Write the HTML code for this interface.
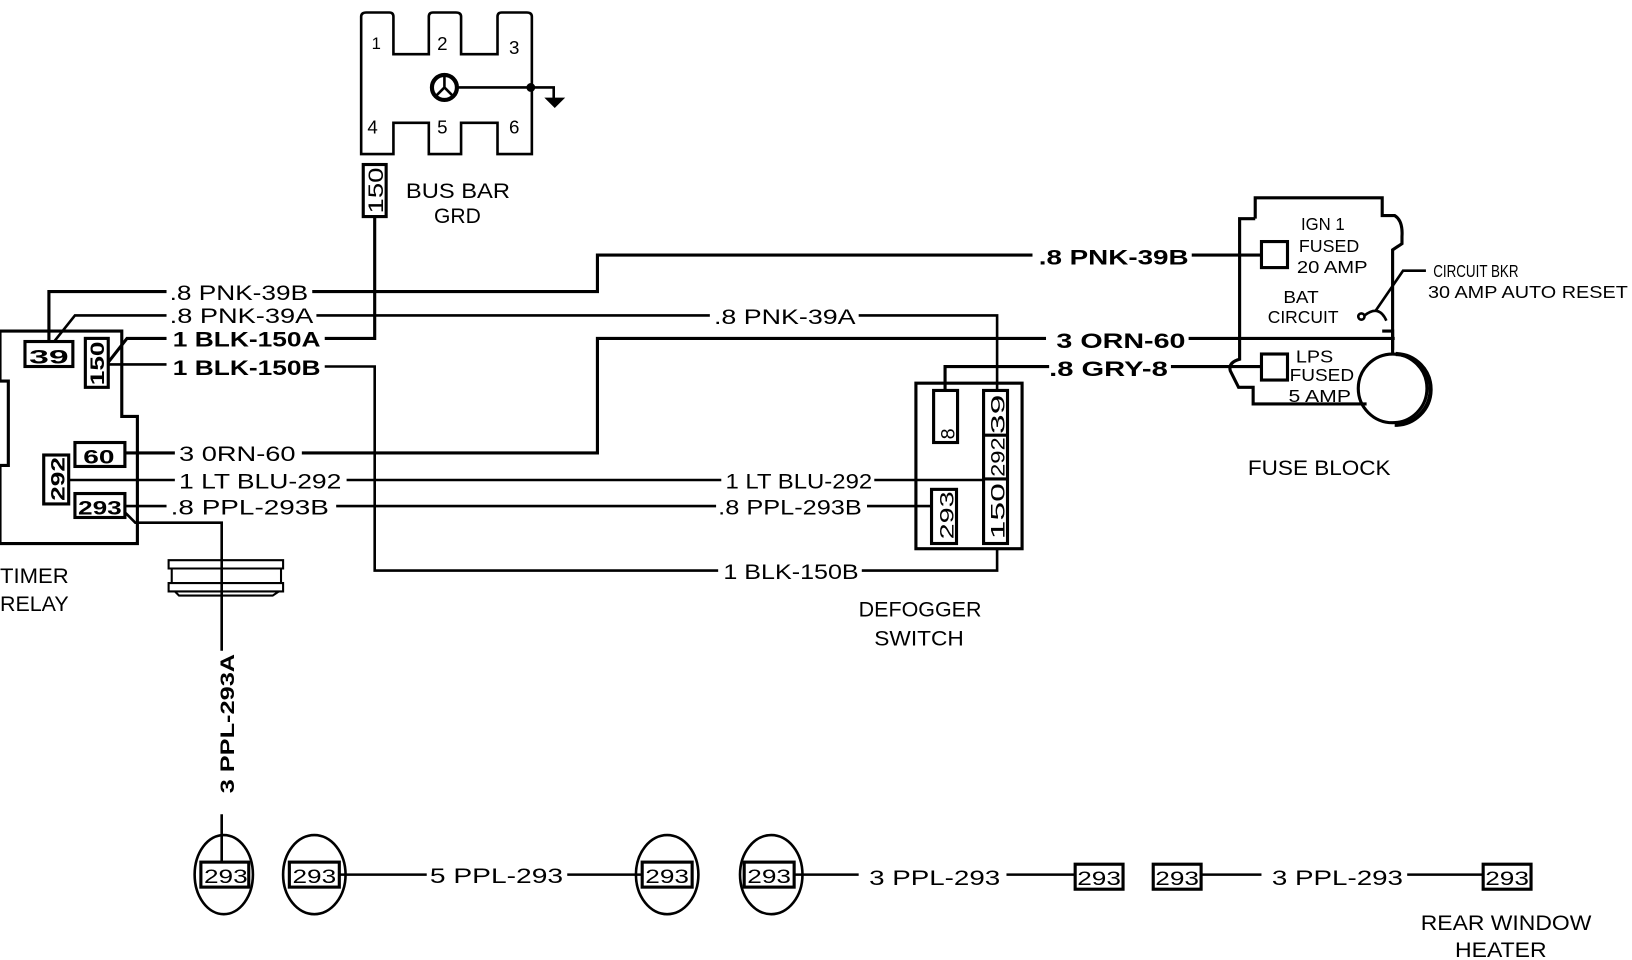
<!DOCTYPE html>
<html><head><meta charset="utf-8"><style>
html,body{margin:0;padding:0;background:#fff;}
svg{display:block;}
text{font-family:"Liberation Sans Narrow","Liberation Sans",sans-serif;fill:#000;}
.b{font-weight:bold;}
</style></head><body>
<svg width="1632" height="960" viewBox="0 0 1568 922" preserveAspectRatio="none" xmlns="http://www.w3.org/2000/svg">
<g fill="none" stroke="#000" stroke-width="2.5">
<!-- bus bar -->
<path d="M347 148 V16 Q347 12 352 12 H374 Q378 12 378 16 V52 H412 V16 Q412 12 416 12 H438 Q443 12 443 16 V52 H478 V16 Q478 12 482 12 H506 Q511 12 511 16 V148 H478 V118 H443 V148 H412 V118 H378 V148 Z"/>
<circle cx="427" cy="84" r="12" stroke-width="4"/>
<path d="M427 84 V74 M427 84 L419 92 M427 84 L435 92"/>
<path d="M439 84 H532 V95"/>
<circle cx="510" cy="84" r="3" fill="#000"/>
<path d="M526 95 H540 L533 102 Z" fill="#000"/>
<rect x="349" y="158" width="22" height="50" stroke-width="3"/>
<!-- timer relay -->
<path d="M0 318 H117 V400 H132 V522 H0 V447 H8 V366 H0 Z" stroke-width="3"/>
<rect x="24" y="328" width="46" height="24" stroke-width="3"/>
<rect x="82" y="325" width="22" height="47" stroke-width="3"/>
<rect x="72" y="425" width="48" height="23" stroke-width="3"/>
<rect x="42" y="437" width="24" height="47" stroke-width="3"/>
<rect x="72" y="474" width="48" height="23" stroke-width="3"/>
<!-- wires -->
<path d="M47 328 V280 H160 M300 280 H574 V245 H992 M1145 245 H1212" stroke-width="3"/>
<path d="M52 328 L72 303 H160 M304 303 H682 M825 303 H958 V375"/>
<path d="M104 348 L122 325 H160 M312 325 H360 V208" stroke-width="3"/>
<path d="M104 350 H160 M312 352 H360 V548 H690 M828 548 H958 V527"/>
<path d="M120 435 H168 M290 435 H574 V325 H1005 M1142 325 H1340" stroke-width="3"/>
<path d="M66 461 H168 M333 461 H693 M840 461 H945"/>
<path d="M120 486 H160 M323 486 H688 M833 486 H895"/>
<path d="M908 375 V352 H1008 M1125 352 H1212" stroke-width="3"/>
<path d="M120 492 L130 502 H213 V625 M213 782 V828"/>
<!-- connector symbol -->
<path d="M162 538 H272 V546 H162 Z M165 546 H270 V560 H165 Z M162 560 H272 V568 H162 Z M168 568 L172 572 H262 L268 568" stroke-width="2"/>
<!-- defogger -->
<rect x="880" y="368" width="102" height="159" stroke-width="3"/>
<rect x="897" y="375" width="23" height="50" stroke-width="3"/>
<rect x="945" y="375" width="23" height="147" stroke-width="3"/>
<path d="M945 418 H968 M945 460 H968" stroke-width="3"/>
<rect x="895" y="470" width="24" height="52" stroke-width="3"/>
<!-- fuse block -->
<path d="M1206 210 V190 H1328 V207 H1340 Q1348 212 1347 227 V234 L1338 240 V336" stroke-width="3"/>
<path d="M1206 210 H1191 V345 Q1180 348 1182 356 L1190 372 H1204 V388 H1313" stroke-width="3"/>
<rect x="1212" y="232" width="25" height="25" stroke-width="3"/>
<rect x="1212" y="340" width="25" height="25" stroke-width="3"/>
<circle cx="1338" cy="373" r="33" stroke-width="3"/>
<path d="M1341 340 A34 34 0 0 1 1340 408" stroke-width="4"/>
<path d="M1338 340 V320 M1328 318 H1338 V330" stroke-width="3"/>
<path d="M1370 260 H1348 L1322 298"/>
<circle cx="1308" cy="304" r="3"/>
<path d="M1311 303 Q1325 292 1332 308" />
<!-- bottom circles -->
<ellipse cx="215" cy="840" rx="28" ry="38"/>
<ellipse cx="302" cy="840" rx="30" ry="38"/>
<ellipse cx="641" cy="840" rx="30" ry="38"/>
<ellipse cx="741" cy="840" rx="30" ry="38"/>
<g stroke-width="3">
<rect x="193" y="828" width="46" height="24"/>
<rect x="278" y="828" width="48" height="24"/>
<rect x="617" y="828" width="48" height="24"/>
<rect x="715" y="828" width="48" height="24"/>
<rect x="1033" y="830" width="46" height="24"/>
<rect x="1108" y="830" width="46" height="24"/>
<rect x="1425" y="830" width="46" height="24"/>
</g>
<path d="M326 840 H410 M545 840 H617 M763 840 H825 M967 840 H1033 M1154 840 H1212 M1352 840 H1425" stroke-width="2.5"/>
</g>
<!-- text -->
<g font-size="20">
<text x="390" y="190" textLength="100" lengthAdjust="spacingAndGlyphs">BUS BAR</text>
<text x="417" y="214" textLength="45" lengthAdjust="spacingAndGlyphs">GRD</text>
<text x="357" y="47" font-size="16">1</text>
<text x="420" y="48" font-size="18">2</text>
<text x="489" y="52" font-size="18">3</text>
<text x="353" y="128" font-size="18">4</text>
<text x="420" y="128" font-size="18">5</text>
<text x="489" y="128" font-size="18">6</text>
<text transform="translate(368,205) rotate(-90)" font-size="20" textLength="44" lengthAdjust="spacingAndGlyphs">150</text>

<text x="163" y="288" textLength="133" lengthAdjust="spacingAndGlyphs">.8 PNK-39B</text>
<text x="163" y="310" textLength="138" lengthAdjust="spacingAndGlyphs">.8 PNK-39A</text>
<text x="166" y="333" class="b" textLength="142" lengthAdjust="spacingAndGlyphs">1 BLK-150A</text>
<text x="166" y="360" class="b" textLength="142" lengthAdjust="spacingAndGlyphs">1 BLK-150B</text>
<text x="172" y="443" textLength="112" lengthAdjust="spacingAndGlyphs">3 0RN-60</text>
<text x="172" y="469" textLength="156" lengthAdjust="spacingAndGlyphs">1 LT BLU-292</text>
<text x="164" y="494" textLength="152" lengthAdjust="spacingAndGlyphs">.8 PPL-293B</text>

<text x="28" y="349" class="b" font-size="19" textLength="38" lengthAdjust="spacingAndGlyphs">39</text>
<text transform="translate(100,370) rotate(-90)" class="b" font-size="19" textLength="42" lengthAdjust="spacingAndGlyphs">150</text>
<text x="80" y="445" class="b" font-size="19" textLength="30" lengthAdjust="spacingAndGlyphs">60</text>
<text transform="translate(62,481) rotate(-90)" class="b" font-size="19" textLength="42" lengthAdjust="spacingAndGlyphs">292</text>
<text x="75" y="494" class="b" font-size="19" textLength="42" lengthAdjust="spacingAndGlyphs">293</text>
<text x="0" y="560" textLength="66" lengthAdjust="spacingAndGlyphs">TIMER</text>
<text x="0" y="587" textLength="66" lengthAdjust="spacingAndGlyphs">RELAY</text>

<text x="686" y="311" textLength="136" lengthAdjust="spacingAndGlyphs">.8 PNK-39A</text>
<text x="697" y="469" textLength="141" lengthAdjust="spacingAndGlyphs">1 LT BLU-292</text>
<text x="690" y="494" textLength="138" lengthAdjust="spacingAndGlyphs">.8 PPL-293B</text>
<text x="695" y="556" textLength="130" lengthAdjust="spacingAndGlyphs">1 BLK-150B</text>
<text x="825" y="592" textLength="118" lengthAdjust="spacingAndGlyphs">DEFOGGER</text>
<text x="840" y="620" textLength="86" lengthAdjust="spacingAndGlyphs">SWITCH</text>
<text transform="translate(917,422) rotate(-90)" font-size="19">8</text>
<text transform="translate(965,417) rotate(-90)" font-size="19" textLength="38" lengthAdjust="spacingAndGlyphs">39</text>
<text transform="translate(965,458) rotate(-90)" font-size="19" textLength="38" lengthAdjust="spacingAndGlyphs">292</text>
<text transform="translate(965,518) rotate(-90)" font-size="19" textLength="54" lengthAdjust="spacingAndGlyphs">150</text>
<text transform="translate(916,518) rotate(-90)" font-size="19" textLength="46" lengthAdjust="spacingAndGlyphs">293</text>

<text x="998" y="254" class="b" textLength="144" lengthAdjust="spacingAndGlyphs">.8 PNK-39B</text>
<text x="1015" y="334" class="b" textLength="124" lengthAdjust="spacingAndGlyphs">3 ORN-60</text>
<text x="1008" y="361" class="b" textLength="114" lengthAdjust="spacingAndGlyphs">.8 GRY-8</text>
<g font-size="17">
<text x="1250" y="221" textLength="42" lengthAdjust="spacingAndGlyphs">IGN 1</text>
<text x="1248" y="242" textLength="58" lengthAdjust="spacingAndGlyphs">FUSED</text>
<text x="1246" y="262" textLength="68" lengthAdjust="spacingAndGlyphs">20 AMP</text>
<text x="1233" y="291" textLength="34" lengthAdjust="spacingAndGlyphs">BAT</text>
<text x="1218" y="310" textLength="68" lengthAdjust="spacingAndGlyphs">CIRCUIT</text>
<text x="1245" y="348" textLength="36" lengthAdjust="spacingAndGlyphs">LPS</text>
<text x="1239" y="366" textLength="62" lengthAdjust="spacingAndGlyphs">FUSED</text>
<text x="1238" y="386" textLength="60" lengthAdjust="spacingAndGlyphs">5 AMP</text>
<text x="1377" y="266" textLength="82" lengthAdjust="spacingAndGlyphs">CIRCUIT BKR</text>
<text x="1372" y="286" textLength="192" lengthAdjust="spacingAndGlyphs">30 AMP AUTO RESET</text>
</g>
<text x="1199" y="456" textLength="137" lengthAdjust="spacingAndGlyphs">FUSE BLOCK</text>

<text transform="translate(225,762) rotate(-90)" class="b" font-size="19" textLength="134" lengthAdjust="spacingAndGlyphs">3  PPL-293A</text>
<g font-size="19">
<text x="196" y="848" textLength="42" lengthAdjust="spacingAndGlyphs">293</text>
<text x="281" y="848" textLength="42" lengthAdjust="spacingAndGlyphs">293</text>
<text x="620" y="848" textLength="42" lengthAdjust="spacingAndGlyphs">293</text>
<text x="718" y="848" textLength="42" lengthAdjust="spacingAndGlyphs">293</text>
<text x="1035" y="850" textLength="42" lengthAdjust="spacingAndGlyphs">293</text>
<text x="1110" y="850" textLength="42" lengthAdjust="spacingAndGlyphs">293</text>
<text x="1427" y="850" textLength="42" lengthAdjust="spacingAndGlyphs">293</text>
</g>
<text x="413" y="848" textLength="128" lengthAdjust="spacingAndGlyphs">5 PPL-293</text>
<text x="835" y="850" textLength="126" lengthAdjust="spacingAndGlyphs">3 PPL-293</text>
<text x="1222" y="850" textLength="126" lengthAdjust="spacingAndGlyphs">3 PPL-293</text>
<text x="1365" y="893" textLength="164" lengthAdjust="spacingAndGlyphs">REAR WINDOW</text>
<text x="1398" y="919" textLength="88" lengthAdjust="spacingAndGlyphs">HEATER</text>
</g>
</svg>
</body></html>
